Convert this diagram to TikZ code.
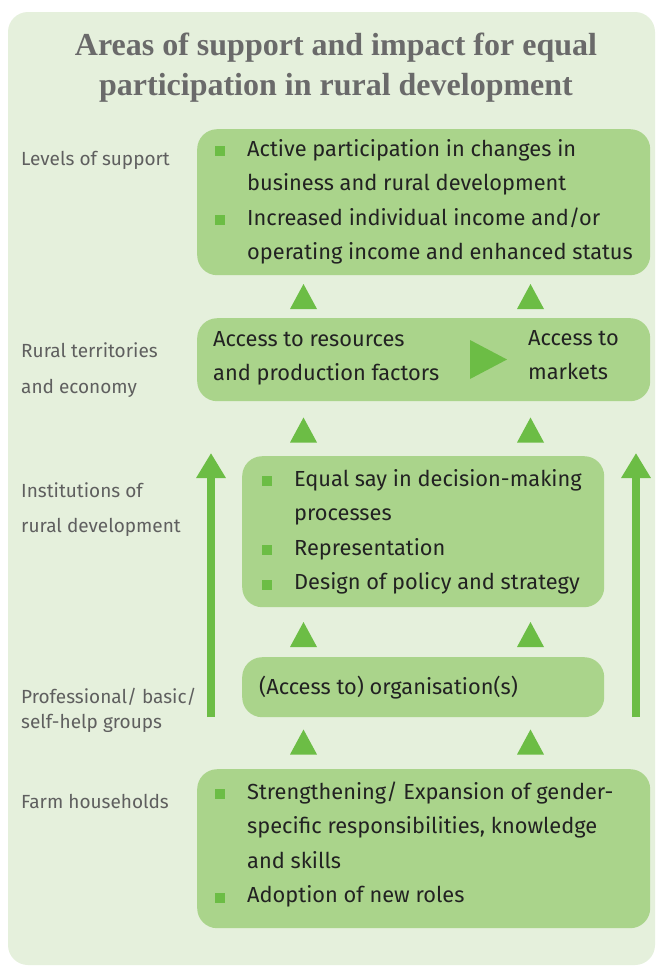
\documentclass[tikz,border=0pt]{standalone}
\usepackage{fontspec}
\setmainfont{Fira Sans}
\newfontfamily\titlefont{Liberation Serif}
\usetikzlibrary{arrows.meta}
\definecolor{bgc}{HTML}{E5F0DC}
\definecolor{boxc}{HTML}{AAD48B}
\definecolor{arc}{HTML}{6CBD45}
\definecolor{txt}{HTML}{222222}
\definecolor{lab}{HTML}{5F5F5F}
\definecolor{ttl}{HTML}{6A6A6A}
\newcommand\blk[2]{\vtop{\hsize=#1\fontsize{21.8}{34.5}\selectfont\raggedright\parindent=0pt\parskip=0pt #2}}
\newcommand\bitem[1]{\par\noindent\hangindent=32pt\hangafter=1\makebox[32pt][l]{\textcolor{arc}{\rule{10pt}{10pt}}}#1}
\newcommand\uptri[2]{\fill[arc] (#1-13.5,#2+12.5) -- (#1+13.5,#2+12.5) -- (#1,#2-12.5) -- cycle;}
\begin{document}
\begin{tikzpicture}[x=1pt,y=-1pt,
  panel/.style={fill=boxc, draw=none, rounded corners=20pt, inner sep=0pt, anchor=north west},
  body/.style={text=txt, inner sep=0pt, anchor=base west},
  lvl/.style={text=lab, inner sep=0pt, anchor=base west, font=\fontsize{19}{22}\selectfont},
  bigarrow/.style={line width=8pt, draw=arc, -{Triangle[width=28pt,length=25pt]}}]
\useasboundingbox (0,0) rectangle (657,967);
\fill[white] (0,0) rectangle (657,967);
\fill[bgc, rounded corners=20pt] (8,12) rectangle (655,965);
% title
\node[font=\titlefont\bfseries\fontsize{32}{40}\selectfont, text=ttl, align=center, inner sep=0pt] (title) at (336,68) {Areas of support and impact for equal\\participation in rural development};
% boxes
\node[panel, minimum width=453pt, minimum height=146pt] (b1) at (197,129) {};
\node[panel, minimum width=453pt, minimum height=83pt] (b2) at (197,318) {};
\node[panel, minimum width=362pt, minimum height=151pt] (b3) at (242,456) {};
\node[panel, minimum width=362pt, minimum height=60pt] (b4) at (242,657) {};
\node[panel, minimum width=453pt, minimum height=159pt] (b5) at (197,769) {};
% box texts
\node[body] (t1) at (215,156) {\blk{420pt}{\bitem{Active participation in changes in\newline business and rural development}\bitem{Increased individual income and/or\newline operating income and enhanced status}}};
\node[body] (t2a) at (213,346) {\blk{250pt}{Access to resources\newline and production factors}};
\node[body] (t2b) at (528,345) {\blk{120pt}{Access to\newline markets}};
\fill[arc] (470,340) -- (507,359.5) -- (470,379) -- cycle;
\node[body] (t3) at (262,486) {\blk{340pt}{\bitem{Equal say in decision-making\newline processes}\bitem{Representation}\bitem{Design of policy and strategy}}};
\node[body] (t4) at (259,694) {\fontsize{21.8}{34.5}\selectfont (Access to) organisation(s)};
\node[body] (t5) at (215,799) {\blk{420pt}{\bitem{Strengthening/ Expansion of gender-\newline specific responsibilities, knowledge\newline and skills}\bitem{Adoption of new roles}}};
% level labels
\node[lvl] (l1) at (21,165) {Levels of support};
\node[lvl] (l2a) at (21,357) {Rural territories};
\node[lvl] (l2b) at (21,393) {and economy};
\node[lvl] (l3a) at (21,497) {Institutions of};
\node[lvl] (l3b) at (21,532) {rural development};
\node[lvl] (l4a) at (21,703) {Professional/ basic/};
\node[lvl] (l4b) at (21,728) {self-help groups};
\node[lvl] (l5) at (21,808) {Farm households};
% triangles between boxes
\uptri{303.5}{296.5}\uptri{530.5}{296.5}
\uptri{303.5}{430}\uptri{530.5}{430}
\uptri{303.5}{634.5}\uptri{530.5}{634.5}
\uptri{303.5}{742}\uptri{530.5}{742}
% long arrows
\coordinate (la0) at (211,717); \coordinate (la1) at (211,453);
\coordinate (ra0) at (636,717); \coordinate (ra1) at (636,453);
\draw[bigarrow] (la0) -- (la1);
\draw[bigarrow] (ra0) -- (ra1);
\end{tikzpicture}
\end{document}
